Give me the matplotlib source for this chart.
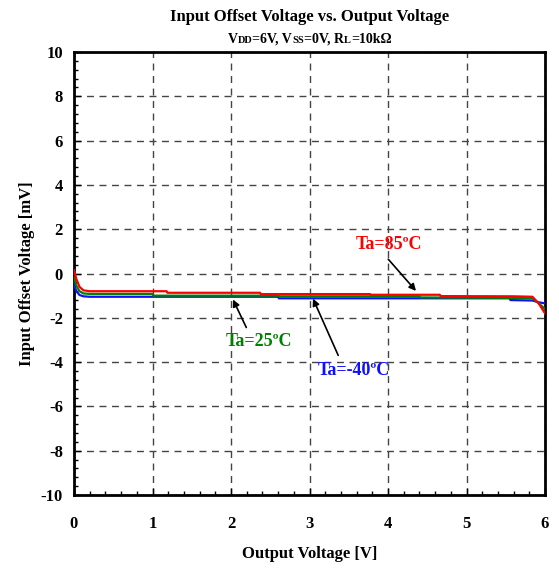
import matplotlib
matplotlib.use("Agg")
import matplotlib.pyplot as plt
from matplotlib.ticker import MultipleLocator

plt.rcParams['font.family'] = ['Liberation Serif', 'DejaVu Serif']
plt.rcParams['axes.unicode_minus'] = False

# Measured offset voltage curves (output voltage [V], offset [mV])
vout_85 = [0.00, 0.03, 0.07, 0.12, 0.20, 1.18, 1.19, 2.37, 2.38, 3.77, 3.78, 4.66, 4.67, 5.60, 5.84, 5.92, 6.00]
vos_85 = [0.15, -0.25, -0.60, -0.76, -0.80, -0.80, -0.87, -0.87, -0.93, -0.93, -0.96, -0.96, -1.02, -1.03, -1.05, -1.35, -1.80]

vout_25 = [0.00, 0.03, 0.07, 0.12, 0.20, 1.00, 1.01, 2.60, 2.61, 4.40, 4.41, 5.50, 5.84, 5.92, 6.00]
vos_25 = [-0.20, -0.55, -0.80, -0.90, -0.92, -0.92, -1.00, -1.00, -1.03, -1.03, -1.08, -1.10, -1.12, -1.35, -1.60]

vout_m40 = [0.00, 0.03, 0.07, 0.12, 0.20, 2.60, 2.61, 5.55, 5.56, 5.84, 5.92, 6.00]
vos_m40 = [-0.50, -0.80, -0.97, -1.03, -1.05, -1.05, -1.12, -1.12, -1.20, -1.22, -1.30, -1.35]

fig = plt.figure(figsize=(5.59, 5.72), dpi=100)
ax = fig.add_axes([74 / 559, 1 - 495 / 572, 471 / 559, 443 / 572])

ax.plot(vout_m40, vos_m40, color='#1010ff', lw=1.6, zorder=3)
ax.plot(vout_25, vos_25, color='#008000', lw=1.6, zorder=4)
ax.plot(vout_85, vos_85, color='#ff0000', lw=1.6, zorder=5)

ax.set_xlim(0, 6)
ax.set_ylim(-10, 10)
ax.xaxis.set_major_locator(MultipleLocator(1))
ax.xaxis.set_minor_locator(MultipleLocator(0.2))
ax.yaxis.set_major_locator(MultipleLocator(2))
ax.yaxis.set_minor_locator(MultipleLocator(0.4))
ax.tick_params(which='both', direction='in', width=1.0, top=False, right=False)
ax.tick_params(which='major', length=5, labelsize=12)
ax.tick_params(which='minor', length=3)
ax.tick_params(axis='x', which='major', pad=15)
ax.tick_params(axis='y', which='major', pad=8)
for lbl in ax.get_xticklabels() + ax.get_yticklabels():
    lbl.set_fontweight('bold')

ax.grid(True, which='major', color='#444444', linestyle=(0, (5, 4)), lw=1.0, zorder=1)
for sp in ax.spines.values():
    sp.set_linewidth(2.0)

ax.set_xlabel('Output Voltage [V]', fontsize=12, fontweight='bold', labelpad=10)
ax.set_ylabel('Input Offset Voltage [mV]', fontsize=12, fontweight='bold', labelpad=4)

arrow = dict(arrowstyle='-|>', color='black', lw=1.2, mutation_scale=10)
ax.annotate('', xy=(4.38, -0.88), xytext=(3.98, 0.74), arrowprops=arrow)
ax.text(4.01, 1.29, 'Ta=85ºC', color='#ff0000', fontsize=13, fontweight='bold',
        ha='center', va='center')
ax.annotate('', xy=(2.01, -1.06), xytext=(2.21, -2.55), arrowprops=arrow)
ax.text(2.35, -3.09, 'Ta=25ºC', color='#008000', fontsize=13, fontweight='bold',
        ha='center', va='center')
ax.annotate('', xy=(3.03, -1.02), xytext=(3.38, -3.81), arrowprops=arrow)
ax.text(3.57, -4.4, 'Ta=-40ºC', color='#1010ff', fontsize=13, fontweight='bold',
        ha='center', va='center')

cx = (74 + 545) / 2
fig.text(cx / 559, 1 - 17 / 572, 'Input Offset Voltage vs. Output Voltage', fontsize=12,
         fontweight='bold', ha='center', va='center')

# Subtitle with small-size subscripts placed piece by piece on one baseline
pieces = [('V', 10), ('DD', 7.5), ('=6V, V', 10), ('SS', 7.5), ('=0V, R', 10), ('L', 7.5), ('=10kΩ', 10)]
fig.canvas.draw()
renderer = fig.canvas.get_renderer()
texts = []
for s, size in pieces:
    texts.append(fig.text(0, 0, s, fontsize=size, fontweight='bold', va='baseline', ha='left'))
widths = [t.get_window_extent(renderer).width for t in texts]
total = sum(widths)
x0 = cx - total / 2
base_y = 1 - 43 / 572
for t, w in zip(texts, widths):
    t.set_position((x0 / 559, base_y))
    x0 += w

fig.savefig('out.png', dpi=100)
